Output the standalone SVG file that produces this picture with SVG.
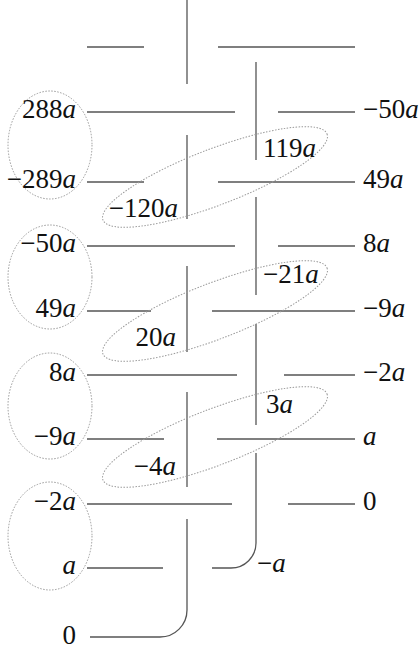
<svg xmlns="http://www.w3.org/2000/svg" width="420" height="649" viewBox="0 0 420 649">
<style>
.ln{fill:none;stroke:#555;stroke-width:1.3}
.el{fill:none;stroke:#999;stroke-width:1;stroke-dasharray:1.5 1.5}
text{font-family:"Liberation Serif","Times New Roman",serif;font-size:27px;fill:#111}
.l{text-anchor:end}
.i{font-style:italic}
</style>
<rect width="420" height="649" fill="#fff"/>
<g id="connectors" class="ln">
<path d="M187,0V84"/>
<path d="M87,47H144M218,47H355"/>
<path d="M256,62V160"/>
<path d="M87,112H235M278,112H355"/>
<path d="M187,135V219"/>
<path d="M87,182H144M218,182H355"/>
<path d="M256,197V295"/>
<path d="M87,246H235M278,246H355"/>
<path d="M187,266V352"/>
<path d="M87,311H151M212,311H355"/>
<path d="M256,324V425"/>
<path d="M87,375H237M284,375H355"/>
<path d="M187,392V487"/>
<path d="M87,439H164M217,439H355"/>
<path d="M87,504H232M288,504H355"/>
<path d="M256,453V543A25,25 0 0 1 231,568H212"/>
<path d="M87,568H163"/>
<path d="M187,519V610A27,27 0 0 1 160,637H90"/>
</g>
<g id="groups" class="el">
<ellipse cx="50" cy="145" rx="42" ry="54"/>
<ellipse cx="50" cy="277" rx="42" ry="52"/>
<ellipse cx="50" cy="406" rx="42" ry="53"/>
<ellipse cx="50" cy="536" rx="42" ry="54"/>
<ellipse cx="215" cy="177" rx="120" ry="28" transform="rotate(-21 215 177)"/>
<ellipse cx="215" cy="311" rx="120" ry="28" transform="rotate(-21 215 311)"/>
<ellipse cx="215" cy="437" rx="120" ry="28" transform="rotate(-21 215 437)"/>
</g>
<g id="n-288a"><text class="l" x="76" y="118">288<tspan class="i">a</tspan></text></g>
<g id="n-m289a"><text class="l" x="76" y="188">−289<tspan class="i">a</tspan></text></g>
<g id="n-m50a-l"><text class="l" x="76" y="252">−50<tspan class="i">a</tspan></text></g>
<g id="n-49a-l"><text class="l" x="76" y="317">49<tspan class="i">a</tspan></text></g>
<g id="n-8a-l"><text class="l" x="76" y="381">8<tspan class="i">a</tspan></text></g>
<g id="n-m9a-l"><text class="l" x="76" y="445">−9<tspan class="i">a</tspan></text></g>
<g id="n-m2a-l"><text class="l" x="76" y="510">−2<tspan class="i">a</tspan></text></g>
<g id="n-a-l"><text class="l i" x="76" y="574">a</text></g>
<g id="n-0-l"><text class="l" x="76" y="644">0</text></g>
<g id="n-m50a-r"><text x="363" y="118">−50<tspan class="i">a</tspan></text></g>
<g id="n-49a-r"><text x="363" y="188">49<tspan class="i">a</tspan></text></g>
<g id="n-8a-r"><text x="363" y="252">8<tspan class="i">a</tspan></text></g>
<g id="n-m9a-r"><text x="363" y="317">−9<tspan class="i">a</tspan></text></g>
<g id="n-m2a-r"><text x="363" y="381">−2<tspan class="i">a</tspan></text></g>
<g id="n-a-r"><text class="i" x="363" y="445">a</text></g>
<g id="n-0-r"><text x="363" y="510">0</text></g>
<g id="n-119a"><text x="263" y="157">119<tspan class="i">a</tspan></text></g>
<g id="n-m120a"><text class="l" x="178" y="217">−120<tspan class="i">a</tspan></text></g>
<g id="n-m21a"><text x="263" y="283">−21<tspan class="i">a</tspan></text></g>
<g id="n-20a"><text class="l" x="176" y="346">20<tspan class="i">a</tspan></text></g>
<g id="n-3a"><text x="266" y="413">3<tspan class="i">a</tspan></text></g>
<g id="n-m4a"><text class="l" x="176" y="475">−4<tspan class="i">a</tspan></text></g>
<g id="n-ma"><text x="257" y="572">−<tspan class="i">a</tspan></text></g>
</svg>
